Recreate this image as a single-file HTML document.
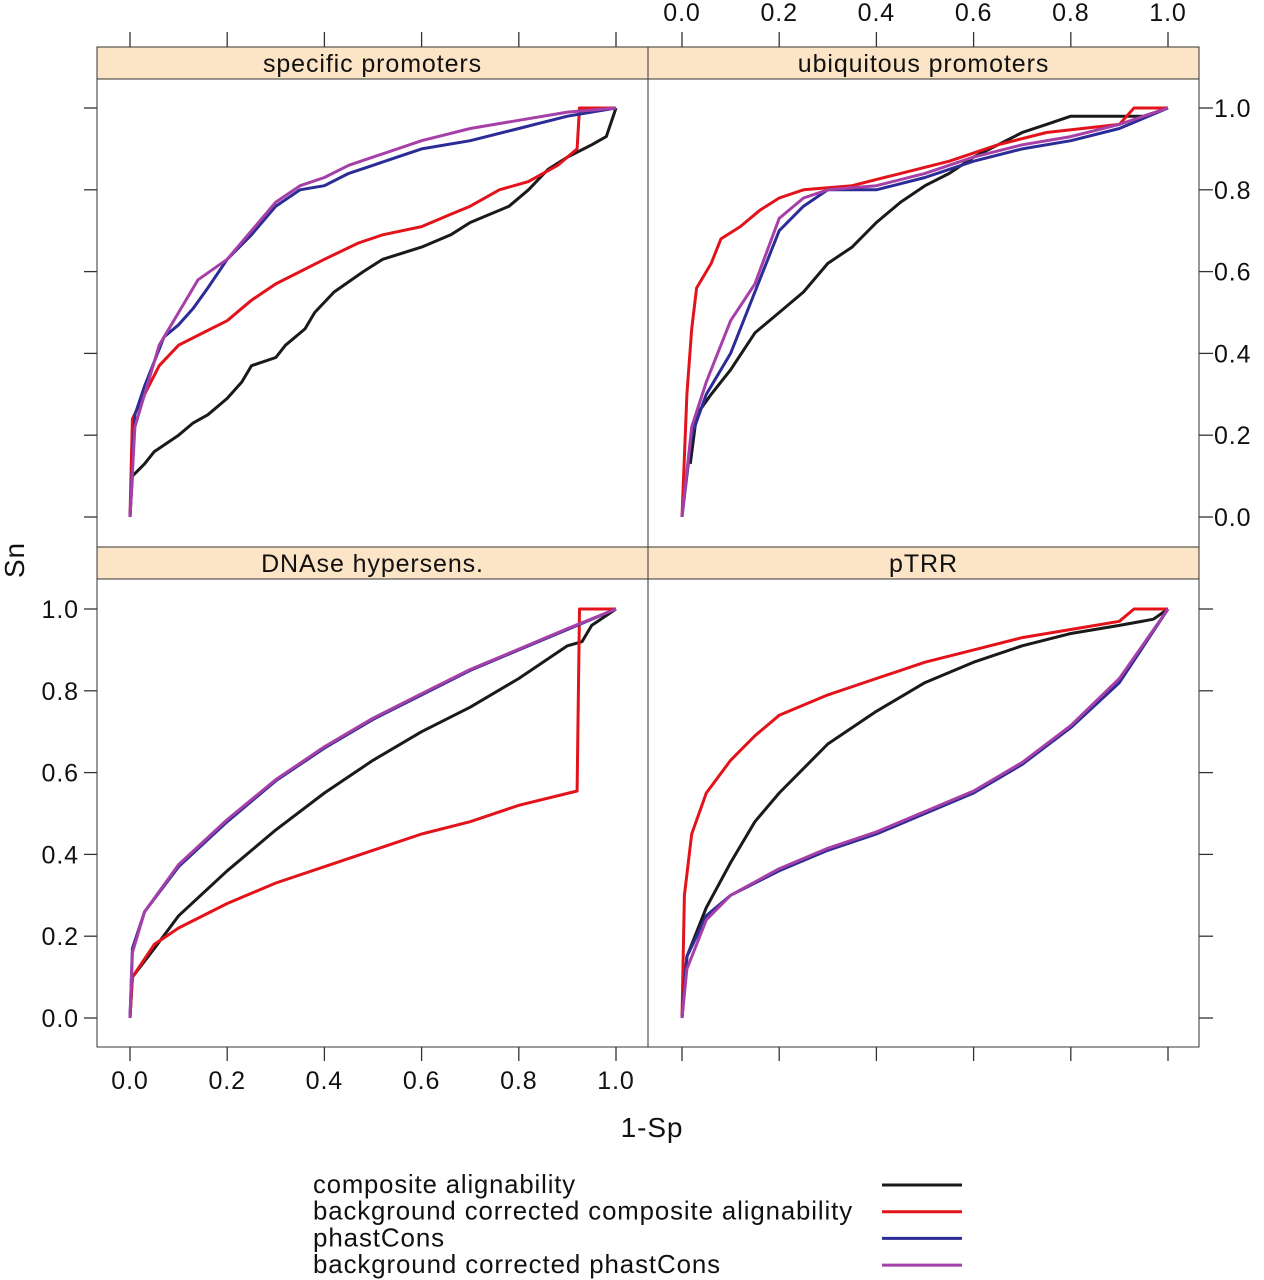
<!DOCTYPE html>
<html><head><meta charset="utf-8">
<style>
html,body{margin:0;padding:0;background:#fff;}
svg{display:block;font-family:"Liberation Sans",Arial,sans-serif;}
text{letter-spacing:0.9px;}
</style></head>
<body>
<svg id="chart" width="1264" height="1280" viewBox="0 0 1264 1280"></svg>
<script>
const panelNames = ["specific promoters","ubiquitous promoters","DNAse hypersens.","pTRR"];
const seriesNames = ["composite alignability","background corrected composite alignability","phastCons","background corrected phastCons"];
const seriesColors = ["#1a1a1a","#e3131b","#2b2c96","#a640a8"];
const tickLabels = ["0.0","0.2","0.4","0.6","0.8","1.0"];
const tickValues = [0,0.2,0.4,0.6,0.8,1.0];

const spBlack = [[0,0],[0.005,0.1],[0.03,0.13],[0.05,0.16],[0.1,0.2],[0.13,0.23],[0.16,0.25],[0.2,0.29],[0.23,0.33],[0.25,0.37],[0.3,0.39],[0.32,0.42],[0.36,0.46],[0.38,0.5],[0.42,0.55],[0.48,0.6],[0.52,0.63],[0.6,0.66],[0.66,0.69],[0.7,0.72],[0.78,0.76],[0.82,0.8],[0.86,0.85],[0.9,0.88],[0.95,0.91],[0.98,0.93],[1,1]];
const spRed = [[0,0],[0.005,0.24],[0.03,0.3],[0.06,0.37],[0.1,0.42],[0.15,0.45],[0.2,0.48],[0.25,0.53],[0.3,0.57],[0.35,0.6],[0.4,0.63],[0.47,0.67],[0.52,0.69],[0.6,0.71],[0.66,0.74],[0.7,0.76],[0.76,0.8],[0.82,0.82],[0.88,0.86],[0.92,0.9],[0.925,1],[1,1]];
const spBlue = [[0,0],[0.01,0.25],[0.03,0.32],[0.05,0.38],[0.07,0.44],[0.1,0.47],[0.13,0.51],[0.16,0.56],[0.2,0.63],[0.25,0.69],[0.3,0.76],[0.35,0.8],[0.4,0.81],[0.45,0.84],[0.5,0.86],[0.55,0.88],[0.6,0.9],[0.7,0.92],[0.8,0.95],[0.9,0.98],[1,1]];
const spPurple = [[0,0],[0.01,0.22],[0.03,0.3],[0.06,0.42],[0.1,0.5],[0.14,0.58],[0.2,0.63],[0.25,0.7],[0.3,0.77],[0.35,0.81],[0.4,0.83],[0.45,0.86],[0.5,0.88],[0.6,0.92],[0.7,0.95],[0.8,0.97],[0.9,0.99],[1,1]];

const upBlack = [[0.017,0.13],[0.03,0.25],[0.06,0.3],[0.1,0.36],[0.15,0.45],[0.2,0.5],[0.25,0.55],[0.3,0.62],[0.35,0.66],[0.4,0.72],[0.45,0.77],[0.5,0.81],[0.55,0.84],[0.6,0.88],[0.65,0.91],[0.7,0.94],[0.75,0.96],[0.8,0.98],[0.95,0.98],[1,1]];
const upRed = [[0,0],[0.01,0.3],[0.02,0.46],[0.03,0.56],[0.06,0.62],[0.08,0.68],[0.12,0.71],[0.16,0.75],[0.2,0.78],[0.25,0.8],[0.35,0.81],[0.45,0.84],[0.55,0.87],[0.65,0.91],[0.75,0.94],[0.9,0.96],[0.93,1],[1,1]];
const upBlue = [[0,0],[0.02,0.2],[0.05,0.3],[0.1,0.4],[0.15,0.55],[0.2,0.7],[0.25,0.76],[0.3,0.8],[0.4,0.8],[0.5,0.83],[0.6,0.87],[0.7,0.9],[0.8,0.92],[0.9,0.95],[1,1]];
const upPurple = [[0,0],[0.02,0.22],[0.05,0.33],[0.1,0.48],[0.15,0.57],[0.2,0.73],[0.25,0.78],[0.3,0.8],[0.4,0.81],[0.5,0.84],[0.6,0.88],[0.7,0.91],[0.8,0.93],[0.9,0.96],[1,1]];

const dnBlack = [[0,0],[0.005,0.1],[0.05,0.17],[0.1,0.25],[0.2,0.36],[0.3,0.46],[0.4,0.55],[0.5,0.63],[0.6,0.7],[0.7,0.76],[0.8,0.83],[0.9,0.91],[0.93,0.92],[0.95,0.96],[1,1]];
const dnRed = [[0,0],[0.005,0.1],[0.05,0.18],[0.1,0.22],[0.2,0.28],[0.3,0.33],[0.4,0.37],[0.5,0.41],[0.6,0.45],[0.7,0.48],[0.8,0.52],[0.92,0.555],[0.925,1],[1,1]];
const dnBlue = [[0,0],[0.005,0.17],[0.03,0.26],[0.1,0.37],[0.2,0.48],[0.3,0.58],[0.4,0.66],[0.5,0.73],[0.6,0.79],[0.7,0.85],[0.8,0.9],[0.9,0.95],[1,1]];
const dnPurple = [[0,0],[0.005,0.16],[0.03,0.26],[0.1,0.375],[0.2,0.485],[0.3,0.583],[0.4,0.663],[0.5,0.733],[0.6,0.793],[0.7,0.852],[0.8,0.902],[0.9,0.952],[1,1]];

const ptBlack = [[0,0],[0.01,0.15],[0.05,0.27],[0.1,0.38],[0.15,0.48],[0.2,0.55],[0.3,0.67],[0.4,0.75],[0.5,0.82],[0.6,0.87],[0.7,0.91],[0.8,0.94],[0.9,0.96],[0.97,0.975],[1,1]];
const ptRed = [[0,0],[0.005,0.3],[0.02,0.45],[0.05,0.55],[0.1,0.63],[0.15,0.69],[0.2,0.74],[0.3,0.79],[0.4,0.83],[0.5,0.87],[0.6,0.9],[0.7,0.93],[0.8,0.95],[0.9,0.97],[0.93,1],[1,1]];
const ptBlue = [[0,0],[0.01,0.15],[0.05,0.25],[0.1,0.3],[0.2,0.36],[0.3,0.41],[0.4,0.45],[0.5,0.5],[0.6,0.55],[0.7,0.62],[0.8,0.71],[0.9,0.82],[1,1]];
const ptPurple = [[0,0],[0.01,0.12],[0.05,0.24],[0.1,0.3],[0.2,0.365],[0.3,0.415],[0.4,0.455],[0.5,0.505],[0.6,0.555],[0.7,0.625],[0.8,0.715],[0.9,0.83],[1,1]];

const panelData = [[spBlack,spRed,spBlue,spPurple],[upBlack,upRed,upBlue,upPurple],[dnBlack,dnRed,dnBlue,dnPurple],[ptBlack,ptRed,ptBlue,ptPurple]];

const NS="http://www.w3.org/2000/svg";
const svg=document.getElementById('chart');
function mk(tag,attrs,parent){const e=document.createElementNS(NS,tag);for(const k in attrs)e.setAttribute(k,attrs[k]);(parent||svg).appendChild(e);return e;}

const colX=[[97,648],[648,1199]];
const x0s=[130,682], xw=486;
const rows=[{strip:47,top:79,bot:547,y0:517,y1:108},{strip:547,top:579,bot:1047,y0:1018,y1:609}];
function sx(c,v){return x0s[c]+v*xw;}
function sy(r,v){return rows[r].y0+v*(rows[r].y1-rows[r].y0);}

for(let p=0;p<4;p++){
  const c=p%2, r=Math.floor(p/2);
  const [L,R]=colX[c], R0=rows[r];
  const g=mk('g',{});
  
  
  const strip=mk('rect',{x:L,y:R0.strip,width:R-L,height:R0.top-R0.strip,fill:'#fce4c6',stroke:'#333','stroke-width':1},g);
  
  
  const st=mk('text',{x:(L+R)/2,y:R0.strip+25,'text-anchor':'middle','font-size':25,fill:'#111'},g);
  st.textContent=panelNames[p];
  
  
  const fr=mk('rect',{x:L,y:R0.top,width:R-L,height:R0.bot-R0.top,fill:'none',stroke:'#333','stroke-width':1},g);
  
  
  for(let s=0;s<4;s++){
    const pts=panelData[p][s].map(d=>sx(c,d[0]).toFixed(1)+','+sy(r,d[1]).toFixed(1)).join(' ');
    const pl=mk('polyline',{points:pts,fill:'none',stroke:seriesColors[s],'stroke-width':3,'stroke-linejoin':'round'},g);
    
    
  }
}
const ax=mk('g',{stroke:'#333','stroke-width':1.3});


function txt(x,y,s,anchor,name){const t=mk('text',{x:x,y:y,'text-anchor':anchor||'middle','font-size':25,fill:'#111'});t.textContent=s;return t;}
tickValues.forEach((v,i)=>{
  for(let c=0;c<2;c++){mk('line',{x1:sx(c,v),x2:sx(c,v),y1:32,y2:47},ax);mk('line',{x1:sx(c,v),x2:sx(c,v),y1:1047,y2:1061},ax);}
  txt(sx(1,v),21,tickLabels[i],'middle','top-x-tick-label');
  txt(sx(0,v),1089,tickLabels[i],'middle','bottom-x-tick-label');
  for(let r=0;r<2;r++){mk('line',{x1:84,x2:97,y1:sy(r,v),y2:sy(r,v)},ax);mk('line',{x1:1199,x2:1213,y1:sy(r,v),y2:sy(r,v)},ax);}
  txt(1214,sy(0,v)+9,tickLabels[i],'start','right-y-tick-label');
  txt(79,sy(1,v)+9,tickLabels[i],'end','left-y-tick-label');
});
const yl=mk('text',{x:0,y:0,'font-size':28,'text-anchor':'middle',fill:'#111',transform:'translate(24,560) rotate(-90)'});
yl.textContent='Sn';


const xl=txt(652,1137,'1-Sp','middle','x-axis-title');xl.setAttribute('font-size',28);
for(let s=0;s<4;s++){
  const y=1185+s*26.7;
  const t=txt(313,y+8,seriesNames[s],'start','legend-label');
  t.setAttribute('font-size',26);
  t.setAttribute('textLength',[263,540,132,408][s]);
  t.setAttribute('lengthAdjust','spacingAndGlyphs');
  const l=mk('line',{x1:882,x2:962,y1:y,y2:y,stroke:seriesColors[s],'stroke-width':3});
  
  
}
</script>
</body></html>
